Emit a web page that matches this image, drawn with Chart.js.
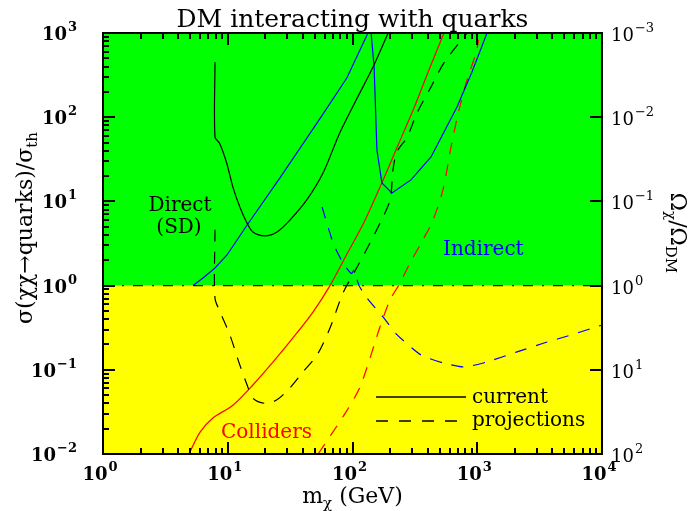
<!DOCTYPE html>
<html>
<head>
<meta charset="utf-8">
<script src="https://cdn.jsdelivr.net/npm/chart.js@4.4.1/dist/chart.umd.min.js"></script>
<style>
  html, body { margin: 0; padding: 0; background: #fff; }
  canvas { display: block; }
</style>
</head>
<body>
<canvas id="chart" width="688" height="511"></canvas>
<script>
// m_chi (GeV) against sigma / sigma_th
const directNowX = [7.9, 7.9, 8.6, 9.8, 11.0, 12.5, 14.3, 15.9, 19.9, 24.8, 31.5, 43, 58, 79, 107, 146, 193];
const directNowY = [453, 58, 49, 28.6, 14.8, 8.6, 5.5, 4.33, 3.9, 4.33, 6.0, 10.4, 21.7, 65, 160, 394, 1000];

const directProjX = [7.9, 7.9, 8.7, 10.4, 12.5, 14.3, 15.9, 19.9, 24.8, 31.5, 40, 52, 66, 84, 109, 138, 166, 200, 211, 227, 274, 329, 426, 541, 828];
const directProjY = [4.6, 0.71, 0.485, 0.259, 0.114, 0.066, 0.046, 0.040, 0.044, 0.061, 0.094, 0.150, 0.313, 0.82, 1.66, 3.2, 5.5, 10.4, 23.6, 38.6, 58, 112, 229, 441, 1000];

const indirectNowX = [5.27, 6.33, 7.9, 9.86, 14.3, 26.2, 55, 90, 133, 141, 149, 157, 172, 207, 294, 426, 688, 907, 1197];
const indirectNowY = [1.0, 1.23, 1.62, 2.31, 5.25, 19, 97, 292, 1000, 1000, 394, 40.7, 16.6, 12.6, 18, 33.7, 132, 344, 1000];

const indirectProjX = [57, 70, 84, 98.2, 102.8, 112.8, 131, 179, 228, 354, 541, 783, 1197, 2083, 3428, 5650, 10000];
const indirectProjY = [8.6, 3.2, 1.85, 1.39, 1.53, 1.0, 0.71, 0.41, 0.26, 0.15, 0.12, 0.108, 0.124, 0.163, 0.208, 0.259, 0.34];

const colliderNowX = [4.89, 6.0, 7.6, 11.0, 15.9, 23.1, 33.3, 48.2, 66, 90.3, 124, 172, 232, 311, 410, 541];
const colliderNowY = [0.01, 0.0182, 0.0268, 0.038, 0.066, 0.124, 0.239, 0.485, 1.0, 2.37, 5.69, 16.6, 46.8, 128.5, 364, 1000];

const colliderProjX = [53, 85.5, 113, 131, 166, 200, 240, 289, 367, 442, 531, 616, 714, 828, 977, 1025];
const colliderProjY = [0.01, 0.029, 0.059, 0.108, 0.322, 0.675, 1.07, 1.85, 3.5, 6.0, 13.7, 44, 122, 277, 578, 826];

const thermalX = [1, 10000];
const thermalY = [1, 1];

const xTickExps = [0, 1, 2, 3, 4];
const yTickExps = [-2, -1, 0, 1, 2, 3];
const omegaTickExps = [-3, -2, -1, 0, 1, 2];

const serif = '"DejaVu Serif", serif';
const DASH = [12, 10];

function pts(xs, ys) {
    return xs.map((x, i) => ({ x: x, y: ys[i] }));
}

function curve(xs, ys, color, dashed, tension) {
    return {
        data: pts(xs, ys),
        borderColor: color,
        borderWidth: 1.2,
        borderDash: dashed ? DASH : [],
        pointRadius: 0,
        fill: false,
        tension: tension
    };
}

function drawPow(ctx, exp, x, y, align, weight) {
    const base = '10';
    const sup = String(exp).replace('-', '\u2212');
    ctx.font = weight + ' 18px ' + serif;
    const wb = ctx.measureText(base).width;
    ctx.font = weight + ' 13px ' + serif;
    const ws = ctx.measureText(sup).width;
    const total = wb + ws + 1;
    let x0 = x;
    if (align === 'right') x0 = x - total;
    if (align === 'center') x0 = x - total / 2;
    ctx.font = weight + ' 18px ' + serif;
    ctx.fillText(base, x0, y);
    ctx.font = weight + ' 13px ' + serif;
    ctx.fillText(sup, x0 + wb + 1, y - 9);
}

// draws a run of [text, isSubscript] pieces, centred on (0,0) of current transform
function drawPieces(ctx, pieces, size, subSize) {
    let total = 0;
    const widths = pieces.map(p => {
        ctx.font = (p[1] ? subSize : size) + 'px ' + serif;
        const w = ctx.measureText(p[0]).width;
        total += w;
        return w;
    });
    let x = -total / 2;
    pieces.forEach((p, i) => {
        ctx.font = (p[1] ? subSize : size) + 'px ' + serif;
        ctx.fillText(p[0], x, p[1] ? 5 : 0);
        x += widths[i];
    });
}

const backdrop = {
    id: 'backdrop',
    beforeDatasetsDraw(chart) {
        const ctx = chart.ctx, a = chart.chartArea;
        const y1 = chart.scales.y.getPixelForValue(1);
        ctx.save();
        ctx.fillStyle = '#00ff00';
        ctx.fillRect(a.left, a.top, a.right - a.left, y1 - a.top);
        ctx.fillStyle = '#ffff00';
        ctx.fillRect(a.left, y1, a.right - a.left, a.bottom - y1);
        ctx.restore();
    }
};

function tickSegments(chart) {
    const a = chart.chartArea;
    const sx = chart.scales.x, sy = chart.scales.y, so = chart.scales.omega;
    const segs = [];
    xTickExps.forEach(e => {
        for (let k = 1; k < 10; k++) {
            const v = k * Math.pow(10, e);
            if (v > 10000) break;
            const px = Math.round(sx.getPixelForValue(v));
            const len = k === 1 ? 12 : 6;
            segs.push([px, a.bottom, px, a.bottom - len]);
            segs.push([px, a.top, px, a.top + len]);
        }
    });
    yTickExps.forEach(e => {
        for (let k = 1; k < 10; k++) {
            const v = k * Math.pow(10, e);
            if (v > 1000) break;
            const py = Math.round(sy.getPixelForValue(v));
            const len = k === 1 ? 12 : 6;
            segs.push([a.left, py, a.left + len, py]);
        }
    });
    omegaTickExps.forEach(e => {
        const py = Math.round(so.getPixelForValue(Math.pow(10, e)));
        segs.push([a.right, py, a.right - 12, py]);
    });
    return segs;
}

const frame = {
    id: 'frame',
    afterDraw(chart) {
        const ctx = chart.ctx, a = chart.chartArea;
        const sx = chart.scales.x, sy = chart.scales.y, so = chart.scales.omega;
        ctx.save();
        ctx.setLineDash([]);
        ctx.strokeStyle = '#000';
        ctx.fillStyle = '#000';

        ctx.lineWidth = 2;
        ctx.strokeRect(a.left, a.top, a.right - a.left, a.bottom - a.top);

        // ticks, pointing inwards
        ctx.lineWidth = 2;
        tickSegments(chart).forEach(s => {
            ctx.beginPath();
            ctx.moveTo(s[0], s[1]);
            ctx.lineTo(s[2], s[3]);
            ctx.stroke();
        });

        // tick labels
        ctx.textAlign = 'left';
        ctx.textBaseline = 'alphabetic';
        xTickExps.forEach(e => {
            drawPow(ctx, e, sx.getPixelForValue(Math.pow(10, e)) - 3, a.bottom + 26, 'center', 'bold');
        });
        yTickExps.forEach(e => {
            drawPow(ctx, e, a.left - 26, sy.getPixelForValue(Math.pow(10, e)) + 7, 'right', 'bold');
        });
        omegaTickExps.forEach(e => {
            drawPow(ctx, e, a.right + 9, so.getPixelForValue(Math.pow(10, e)) + 8, 'left', 'normal');
        });

        // title
        ctx.font = '25px ' + serif;
        ctx.textAlign = 'center';
        ctx.fillText('DM interacting with quarks', (a.left + a.right) / 2, 27);
        ctx.textAlign = 'left';

        // axis titles
        ctx.save();
        ctx.translate((a.left + a.right) / 2, 503);
        drawPieces(ctx, [['m', false], ['\u03c7', true], [' (GeV)', false]], 22, 15);
        ctx.restore();

        ctx.save();
        ctx.translate(32, 228);
        ctx.rotate(-Math.PI / 2);
        drawPieces(ctx, [['\u03c3(\u03c7\u03c7\u2192quarks)/\u03c3', false], ['th', true]], 22, 15);
        ctx.restore();

        ctx.save();
        ctx.translate(671, 233);
        ctx.rotate(Math.PI / 2);
        drawPieces(ctx, [['\u03a9', false], ['\u03c7', true], ['/\u03a9', false], ['DM', true]], 22, 15);
        ctx.restore();

        // curve labels
        ctx.font = '20px ' + serif;
        ctx.textAlign = 'center';
        ctx.fillStyle = '#000';
        ctx.fillText('Direct', 180, 211);
        ctx.fillText('(SD)', 179, 233);
        ctx.textAlign = 'left';
        ctx.fillStyle = '#0000ff';
        ctx.fillText('Indirect', 443, 255);
        ctx.fillStyle = '#ff0000';
        ctx.fillText('Colliders', 221, 438);

        // legend
        ctx.fillStyle = '#000';
        ctx.lineWidth = 1.5;
        ctx.beginPath();
        ctx.moveTo(376, 397); ctx.lineTo(466, 397);
        ctx.stroke();
        ctx.setLineDash([12, 11]);
        ctx.beginPath();
        ctx.moveTo(376, 421); ctx.lineTo(466, 421);
        ctx.stroke();
        ctx.setLineDash([]);
        ctx.fillText('current', 472, 403);
        ctx.fillText('projections', 472, 426);

        ctx.restore();
    }
};

new Chart(document.getElementById('chart'), {
    type: 'line',
    data: {
        datasets: [
            {
                data: pts(thermalX, thermalY),
                borderColor: '#111',
                borderWidth: 1.3,
                borderDash: [10, 9, 2, 9],
                pointRadius: 0,
                fill: false
            },
            curve(directNowX, directNowY, '#000', false, 0.3),
            curve(directProjX, directProjY, '#000', true, 0.3),
            curve(indirectNowX, indirectNowY, '#0000ff', false, 0),
            curve(indirectProjX, indirectProjY, '#0000ff', true, 0.2),
            curve(colliderNowX, colliderNowY, '#ff0000', false, 0.3),
            curve(colliderProjX, colliderProjY, '#ff0000', true, 0.3)
        ]
    },
    options: {
        responsive: false,
        animation: false,
        devicePixelRatio: 1,
        layout: { padding: { left: 103, right: 86, top: 33, bottom: 57 } },
        scales: {
            x: { type: 'logarithmic', min: 1, max: 10000, display: false },
            y: { type: 'logarithmic', min: 0.01, max: 1000, display: false },
            omega: { type: 'logarithmic', position: 'right', min: 0.001, max: 100, reverse: true, display: false }
        },
        plugins: {
            legend: { display: false },
            tooltip: { enabled: false }
        }
    },
    plugins: [backdrop, frame]
});
</script>
</body>
</html>
